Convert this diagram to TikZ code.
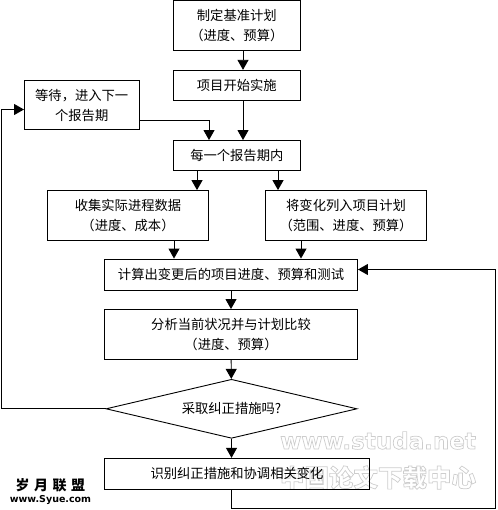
\documentclass[tikz,border=0pt]{standalone}
\usepackage{fontspec}
\usepackage{xcolor}
\usetikzlibrary{arrows.meta, shapes.geometric}
\newfontfamily\cjkfont{Noto Sans CJK SC}
\newfontfamily\markfont{DejaVu Sans}
\definecolor{marklight}{HTML}{CDCDCD}
\newcommand{\hollowtext}[1]{\special{pdf:code 1 Tr 0.7 w}#1\special{pdf:code 0 Tr 1 w}}

\begin{document}
\begin{tikzpicture}[x=1pt, y=-1pt, line width=0.9pt,
  every node/.style={font=\fontsize{13.3}{20}\selectfont\cjkfont},
  box/.style={draw, rectangle, inner sep=0pt, align=center},
  decide/.style={draw, diamond, aspect=4.25, inner sep=0pt},
  wmark/.style={inner sep=0pt, text=marklight},
  flow/.style={-{Triangle[length=10pt, width=11pt]}}]
  \useasboundingbox (0,0) rectangle (497,510);

  % watermarks go under the boxes
  \node[wmark, font=\fontsize{23}{25}\selectfont\markfont\bfseries] (wmurl) at (378,440.5) {\hollowtext{www.studa.net}};
  \node[wmark, font=\fontsize{24.5}{25}\selectfont\cjkfont\bfseries] (wmname) at (378,477.5) {\hollowtext{中国论文下载中心}};

  \node[box, minimum width=126.5pt, minimum height=50pt] (plan) at (236.8,25.5) {制定基准计划\\（进度、预算）};
  \node[box, minimum width=126.5pt, minimum height=30pt] (start) at (236.8,85.3) {项目开始实施};
  \node[box, minimum width=114.5pt, minimum height=48.5pt] (wait) at (81.7,105) {等待，进入下一\\个报告期};
  \node[box, minimum width=126.5pt, minimum height=30pt] (period) at (236.8,155.5) {每一个报告期内};

  \node[box, minimum width=161pt, minimum height=49.5pt] (collect) at (128,215.3) {收集实际进程数据\\（进度、成本）};
  \node[box, minimum width=161pt, minimum height=49.5pt] (change) at (346,215.3) {将变化列入项目计划\\（范围、进度、预算）};

  \node[box, minimum width=253pt, minimum height=31pt] (calc) at (231,274.5) {计算出变更后的项目进度、预算和测试};
  \node[box, minimum width=253pt, minimum height=50pt] (analyse) at (231,334.5) {分析当前状况并与计划比较\\（进度、预算）};
  \node[decide, minimum width=251pt, minimum height=59pt] (ask) at (231.5,408.8) {采取纠正措施吗?};
  \node[box, minimum width=265pt, minimum height=31pt] (act) at (237,473.8) {识别纠正措施和协调相关变化};

  \node[inner sep=0pt, font=\fontsize{14}{14}\selectfont\cjkfont\bfseries] (sitecn) at (50.5,485) {岁\kern4.5pt月\kern4.5pt联\kern4.5pt盟};
  \node[inner sep=0pt, font=\fontsize{9.5}{10}\selectfont\markfont\bfseries] (siteen) at (50.5,499.5) {www.Syue.com};

  \coordinate (colmain) at (243,0);
  \coordinate (colwait) at (209,0);
  \coordinate (colleft) at (197,0);
  \coordinate (colright) at (278,0);
  \coordinate (colin) at (174,0);
  \coordinate (colout) at (301,0);
  \coordinate (farleft) at (1.5,109.5);
  \coordinate (farright) at (495,508);

  \draw[flow] (plan.south -| colmain) -- (start.north -| colmain);
  \draw[flow] (start.south -| colmain) -- (period.north -| colmain);
  \draw[flow] (wait.east |- 0,120.5) -| (period.north -| colwait);
  \draw[flow] (period.south -| colleft) -- (collect.north -| colleft);
  \draw[flow] (period.south -| colright) -- (change.north -| colright);
  \draw[flow] (collect.south -| colin) -- (calc.north -| colin);
  \draw[flow] (change.south -| colout) -- (calc.north -| colout);
  \draw[flow] (calc) -- (analyse);
  \draw[flow] (analyse) -- (ask);
  \draw[flow] (ask) -- (ask.south |- act.north);
  \draw[flow] (ask.west) -| (farleft) -- (wait.west |- farleft);
  \draw[flow] (act.south -| ask) |- (farright) |- (calc.east |- 0,269.5);
\end{tikzpicture}
\end{document}
